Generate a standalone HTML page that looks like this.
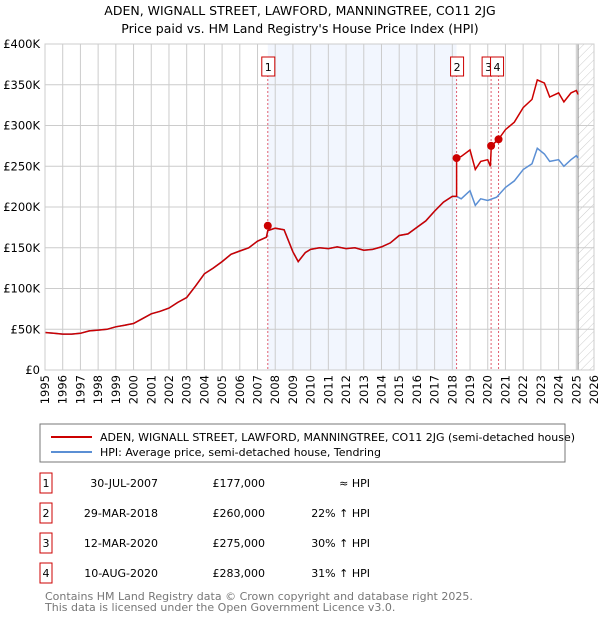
<!DOCTYPE html>
<html><head><meta charset="utf-8"><style>
body{margin:0;background:#fff;font-family:"DejaVu Sans","Liberation Sans",sans-serif;}
svg text{font-family:"DejaVu Sans","Liberation Sans",sans-serif;}
</style></head><body>
<svg id="c" width="600" height="620" xmlns="http://www.w3.org/2000/svg">
<defs><pattern id="hatch" width="6" height="6" patternUnits="userSpaceOnUse" patternTransform="rotate(45)"><line x1="0" y1="0" x2="0" y2="6" stroke="#ccc" stroke-width="1"/></pattern></defs>
<text x="300" y="15" text-anchor="middle" font-size="12.5">ADEN, WIGNALL STREET, LAWFORD, MANNINGTREE, CO11 2JG</text>
<text x="300" y="33" text-anchor="middle" font-size="12.5">Price paid vs. HM Land Registry's House Price Index (HPI)</text>
<g id="plot"></g>
<rect x="40" y="424" width="525" height="38" fill="#fff" stroke="#777"/>
<line x1="51" y1="437" x2="92" y2="437" stroke="#cc0000" stroke-width="2"/>
<text x="100" y="441" font-size="11">ADEN, WIGNALL STREET, LAWFORD, MANNINGTREE, CO11 2JG (semi-detached house)</text>
<line x1="51" y1="452" x2="92" y2="452" stroke="#5b8fd4" stroke-width="2"/>
<text x="100" y="456" font-size="11">HPI: Average price, semi-detached house, Tendring</text>
<g id="table"></g>
<text x="45" y="600" font-size="11" fill="#777">Contains HM Land Registry data © Crown copyright and database right 2025.</text>
<text x="45" y="611" font-size="11" fill="#777">This data is licensed under the Open Government Licence v3.0.</text>
</svg>
<script>
const hpiT=[1995,1995.5,1996,1996.5,1997,1997.5,1998,1998.5,1999,1999.5,2000,2000.5,2001,2001.5,2002,2002.5,2003,2003.5,2004,2004.5,2005,2005.5,2006,2006.5,2007,2007.5,2007.58,2008,2008.5,2009,2009.3,2009.7,2010,2010.5,2011,2011.5,2012,2012.5,2013,2013.5,2014,2014.5,2015,2015.5,2016,2016.5,2017,2017.5,2018,2018.24,2018.5,2019,2019.3,2019.6,2020,2020.5,2021,2021.5,2022,2022.5,2022.8,2023.2,2023.5,2024,2024.3,2024.7,2025,2025.1];
const hpiV=[46,45,44,44,45,48,49,50,53,55,57,63,69,72,76,83,89,103,118,125,133,142,146,150,158,163,171,174,172,145,133,144,148,150,149,151,149,150,147,148,151,156,165,167,175,183,195,206,213,213,210,220,202,210,208,212,224,232,246,253,272,265,256,258,250,258,263,260];
const priceT=[2018.24,2018.5,2019,2019.3,2019.6,2020,2020.15,2020.2,2020.6,2021,2021.5,2022,2022.5,2022.8,2023.2,2023.5,2024,2024.3,2024.7,2025,2025.1];
const priceV=[260,262,270,246,256,258,250,275,283,295,304,322,332,356,352,335,340,329,340,343,338];
const saleT=[2007.58,2018.24,2020.19,2020.61];
const saleV=[177,260,275,283];
const saleLabels=["1","2","3","4"];
const saleDates=["30-JUL-2007","29-MAR-2018","12-MAR-2020","10-AUG-2020"];
const salePrices=["£177,000","£260,000","£275,000","£283,000"];
const saleHpi=["≈ HPI","22% ↑ HPI","30% ↑ HPI","31% ↑ HPI"];
const yTicks=[0,50,100,150,200,250,300,350,400];
const yLabels=["£0","£50K","£100K","£150K","£200K","£250K","£300K","£350K","£400K"];
const xYears=[1995,1996,1997,1998,1999,2000,2001,2002,2003,2004,2005,2006,2007,2008,2009,2010,2011,2012,2013,2014,2015,2016,2017,2018,2019,2020,2021,2022,2023,2024,2025,2026];
const X0=45,X1=594,Y0=370,Y1=44;
const xs=t=>X0+(t-1995)/31*(X1-X0);
const ys=v=>Y0-v/400*(Y0-Y1);
const NS="http://www.w3.org/2000/svg";
const g=document.getElementById('plot');
function mk(tag,attrs,parent){const e=document.createElementNS(NS,tag);for(const k in attrs)e.setAttribute(k,attrs[k]);(parent||g).appendChild(e);return e;}
let e;
e=mk('rect',{x:xs(saleT[0]),y:Y1,width:xs(saleT[1])-xs(saleT[0]),height:Y0-Y1,fill:'#f2f6fe'});


e=mk('rect',{x:xs(2025.1),y:Y1,width:X1-xs(2025.1),height:Y0-Y1,fill:'url(#hatch)'});


yTicks.forEach((v,i)=>{
 e=mk('line',{x1:X0,x2:X1,y1:ys(v),y2:ys(v),stroke:'#ccc'});
 
 
 e=mk('text',{x:X0-5,y:ys(v)+4,'text-anchor':'end','font-size':'11.5'});e.textContent=yLabels[i];
 
 
});
xYears.forEach(y=>{
 e=mk('line',{x1:xs(y),x2:xs(y),y1:Y1,y2:Y0,stroke:'#ccc'});
 
 
 e=mk('text',{x:0,y:0,'text-anchor':'end','font-size':'11.5',transform:`translate(${xs(y)+4},${Y0+5}) rotate(-90)`});e.textContent=y;
 
 
});
e=mk('line',{x1:xs(2025.1),x2:xs(2025.1),y1:Y1,y2:Y0,stroke:'#888'});


saleT.forEach((t,i)=>{
 e=mk('line',{x1:xs(t),x2:xs(t),y1:Y1+15,y2:Y0,stroke:'#e06070','stroke-dasharray':'2,2'});
 
 
});
e=mk('path',{d:hpiT.map((t,i)=>(i?'L':'M')+xs(t).toFixed(1)+','+ys(hpiV[i]).toFixed(1)).join(''),fill:'none',stroke:'#5b8fd4','stroke-width':1.5});


let pts=[];hpiT.forEach((t,i)=>{if(t<=saleT[1])pts.push([t,hpiV[i]]);});
priceT.forEach((t,i)=>pts.push([t,priceV[i]]));
e=mk('path',{d:pts.map((p,i)=>(i?'L':'M')+xs(p[0]).toFixed(1)+','+ys(p[1]).toFixed(1)).join(''),fill:'none',stroke:'#cc0000','stroke-width':1.5});


const boxOff=[-6,-6,-9,-8];
saleT.forEach((t,i)=>{
 e=mk('circle',{cx:xs(t),cy:ys(saleV[i]),r:4,fill:'#cc0000'});
 
 
 const bx=xs(t)+boxOff[i];
 e=mk('rect',{x:bx,y:57,width:13,height:19,fill:'#fff',stroke:'#cc0000'});
 
 
 e=mk('text',{x:bx+6.5,y:71,'text-anchor':'middle','font-size':'11'});e.textContent=saleLabels[i];
 
 
});
e=mk('rect',{x:X0,y:Y1,width:X1-X0,height:Y0-Y1,fill:'none',stroke:'#ccc'});


const tb=document.getElementById('table');
saleT.forEach((t,i)=>{
 const y=473+i*30;
 e=mk('rect',{x:40,y:y,width:12,height:20,fill:'#fff',stroke:'#cc0000'},tb);
 
 
 e=mk('text',{x:46,y:y+14,'text-anchor':'middle','font-size':'11'},tb);e.textContent=saleLabels[i];
 
 
 e=mk('text',{x:158,y:y+14,'text-anchor':'end','font-size':'11'},tb);e.textContent=saleDates[i];
 
 
 e=mk('text',{x:265,y:y+14,'text-anchor':'end','font-size':'11'},tb);e.textContent=salePrices[i];
 
 
 e=mk('text',{x:370,y:y+14,'text-anchor':'end','font-size':'11'},tb);e.textContent=saleHpi[i];
 
 
});
</script>
</body></html>
